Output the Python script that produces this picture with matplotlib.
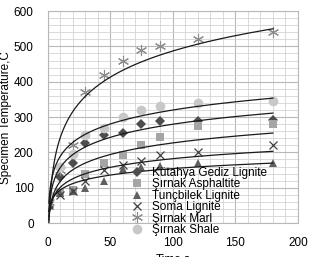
import numpy as np
import matplotlib
matplotlib.use("Agg")
import matplotlib.pyplot as plt
from matplotlib.ticker import MultipleLocator

plt.rcParams['font.family'] = ['Liberation Sans', 'DejaVu Sans']

time_s = [1, 10, 20, 30, 45, 60, 75, 90, 120, 180]
kutahya = [45, 130, 170, 226, 250, 255, 280, 288, 290, 292]
asphaltite = [60, 85, 95, 140, 170, 193, 222, 243, 274, 281]
tuncbilek = [50, 85, 92, 100, 119, 153, 158, 162, 170, 171]
soma = [50, 80, 90, 119, 149, 165, 177, 193, 200, 222]
marl = [60, 150, 220, 370, 420, 460, 490, 500, 520, 540]
shale = [80, 160, 195, 250, 270, 300, 320, 330, 340, 345]

labels = ["Kütahya Gediz Lignite", "Şırnak Asphaltite", "Tunçbilek Lignite",
          "Soma Lignite", "Şırnak Marl", "Şırnak Shale"]
series = [kutahya, asphaltite, tuncbilek, soma, marl, shale]
styles = [
    dict(marker='D', color='#4d4d4d', ms=5, mew=0),
    dict(marker='s', color='#a5a5a5', ms=6, mew=0),
    dict(marker='^', color='#606060', ms=6, mew=0),
    dict(marker='x', color='#404040', ms=6, mew=0.9),
    dict(marker=(6, 2, 0), color='#8c8c8c', ms=8, mew=0.8),
    dict(marker='o', color='#c8c8c8', ms=7, mew=0),
]

fig = plt.figure(figsize=(3.13, 2.57), dpi=100)
ax = fig.add_axes([0.152, 0.132, 0.8, 0.825])

t = np.array(time_s, dtype=float)
tt = np.linspace(t.min(), t.max(), 300)
for vals, lab, st in zip(series, labels, styles):
    ax.plot(t, vals, linestyle='none', label=lab, **st)
    a, b = np.polyfit(np.log(t), np.array(vals, dtype=float), 1)
    ax.plot(tt, a * np.log(tt) + b, color='#1a1a1a', lw=0.9, zorder=3)

ax.set_xlim(0, 200)
ax.set_ylim(0, 600)
ax.xaxis.set_major_locator(MultipleLocator(50))
ax.xaxis.set_minor_locator(MultipleLocator(10))
ax.yaxis.set_major_locator(MultipleLocator(100))
ax.yaxis.set_minor_locator(MultipleLocator(20))
ax.grid(which='major', color='#b8b8b8', lw=0.8)
ax.grid(which='minor', color='#d4d4d4', lw=0.6)
ax.set_axisbelow(True)
for sp in ax.spines.values():
    sp.set_color('#b8b8b8')
    sp.set_linewidth(0.8)
ax.tick_params(which='both', length=0)
ax.tick_params(axis='x', pad=10, labelsize=8.5)
ax.tick_params(axis='y', pad=10, labelsize=8.5)
ax.set_xlabel("Time,s", fontsize=8.5, labelpad=3)
ax.set_ylabel("Specimen Temperature,C", fontsize=8.5, labelpad=1)

leg = ax.legend(loc='lower left', bbox_to_anchor=(0.30, -0.10), frameon=False,
                fontsize=8.5, labelspacing=-0.05, handlelength=1.0,
                handletextpad=0.8, borderpad=0.2)

fig.savefig("out.png", dpi=100)
